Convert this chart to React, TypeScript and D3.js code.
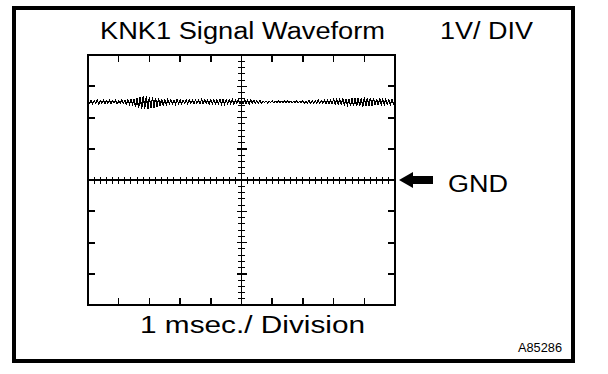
import React from 'react';
import * as d3 from 'd3';

// Oscilloscope: 10 horizontal divisions (1 ms each), 8 vertical divisions (1 V each)
const timeDivisions = d3.range(0, 11);   // ms
const voltDivisions = d3.range(-4, 5);   // V
const sampleStepMs = 0.05;

// KNK1 signal samples (V), every 0.05 ms
const knkSignal = [
  2.54, 2.46, 2.55, 2.45, 2.53, 2.47, 2.56, 2.44, 2.54, 2.46, 2.55, 2.45, 2.53, 2.46, 2.56, 2.45,
  2.54, 2.47, 2.55, 2.44, 2.53, 2.46, 2.56, 2.45, 2.55,
  2.43, 2.57, 2.42, 2.58, 2.43, 2.59,
  2.34, 2.62, 2.30, 2.66, 2.28, 2.68, 2.29, 2.67, 2.27, 2.66, 2.30, 2.65, 2.32, 2.63, 2.35, 2.62,
  2.36, 2.60, 2.38, 2.59, 2.40, 2.58,
  2.44, 2.56, 2.45, 2.55, 2.43, 2.57, 2.45, 2.56, 2.44, 2.55, 2.46, 2.56, 2.44, 2.57, 2.45, 2.55,
  2.44, 2.56, 2.46, 2.55, 2.45, 2.57, 2.44, 2.56, 2.45, 2.55, 2.44, 2.57,
  2.44, 2.57, 2.43, 2.56, 2.45, 2.58, 2.44, 2.57, 2.43, 2.56, 2.45, 2.57, 2.44, 2.58, 2.43, 2.56,
  2.45, 2.57, 2.44, 2.56,
  2.44, 2.57, 2.45, 2.56, 2.44, 2.57, 2.46, 2.55, 2.45, 2.54, 2.47, 2.54, 2.46, 2.53, 2.48, 2.53,
  2.47, 2.52, 2.48, 2.53,
  2.47, 2.52, 2.48, 2.53, 2.47, 2.52, 2.48, 2.52, 2.47, 2.53, 2.48, 2.52, 2.47, 2.52, 2.48, 2.53,
  2.47, 2.52, 2.48, 2.53, 2.46, 2.53, 2.47, 2.54, 2.46, 2.53, 2.47, 2.54, 2.46, 2.55, 2.45, 2.54,
  2.46, 2.55, 2.45, 2.56, 2.44, 2.55, 2.45, 2.57,
  2.43, 2.57, 2.42, 2.58, 2.43, 2.59, 2.42, 2.58, 2.41, 2.60,
  2.38, 2.61, 2.37, 2.62, 2.36, 2.63, 2.37, 2.62, 2.35, 2.64, 2.36, 2.62, 2.38, 2.63, 2.37, 2.61,
  2.39, 2.60, 2.40, 2.61, 2.41, 2.59,
  2.42, 2.58, 2.43, 2.57, 2.42, 2.58, 2.44, 2.57,
];

const titleText = 'KNK1 Signal Waveform';
const scaleText = '1V/ DIV';
const timeText = '1 msec./ Division';
const gndText = 'GND';
const figureId = 'A85286';

const W = 608;
const H = 374;
const font = '"Liberation Sans", Arial, Helvetica, sans-serif';

export default function App() {
  const x = d3.scaleLinear().domain([0, 10]).range([88, 395]);
  const y = d3.scaleLinear().domain([-4, 4]).range([305, 55]);

  const minorT = d3.range(0, 10.001, 0.2);
  const minorV = d3.range(-4, 4.001, 0.2);

  const line = d3
    .line<number>()
    .x((_, i) => x(i * sampleStepMs))
    .y((d) => y(d));

  const gy = y(0);
  const ax = x(10) + 4;

  return (
    <svg width={W} height={H} style={{ position: 'absolute', left: 0, top: 0, background: '#fff' }}>
      <g shapeRendering="crispEdges">
        {/* outer frame */}
        <rect x={14} y={8} width={559} height={353} fill="none" stroke="#000" strokeWidth={4} />

        {/* screen frame */}
        <rect x={x(0)} y={y(4)} width={x(10) - x(0)} height={y(-4) - y(4)} fill="none" stroke="#000" strokeWidth={2} />

        {/* major ticks on frame */}
        {timeDivisions.slice(1, -1).map((t) => (
          <g key={'t' + t}>
            <line x1={x(t)} x2={x(t)} y1={y(4)} y2={y(4) + 7} stroke="#000" strokeWidth={1.5} />
            <line x1={x(t)} x2={x(t)} y1={y(-4)} y2={y(-4) - 7} stroke="#000" strokeWidth={1.5} />
          </g>
        ))}
        {voltDivisions.slice(1, -1).map((v) => (
          <g key={'v' + v}>
            <line x1={x(0)} x2={x(0) + 7} y1={y(v)} y2={y(v)} stroke="#000" strokeWidth={2} />
            <line x1={x(10)} x2={x(10) - 7} y1={y(v)} y2={y(v)} stroke="#000" strokeWidth={2} />
          </g>
        ))}

        {/* center axes */}
        <line x1={x(0)} x2={x(10)} y1={gy} y2={gy} stroke="#000" strokeWidth={1.2} />
        <line x1={x(5)} x2={x(5)} y1={y(4)} y2={y(-4)} stroke="#000" strokeWidth={1.2} />
        {minorT.map((t) => (
          <line key={'mt' + t} x1={x(t)} x2={x(t)} y1={gy - 3.5} y2={gy + 3.5} stroke="#000" strokeWidth={1} />
        ))}
        {minorV.map((v) => (
          <line key={'mv' + v} x1={x(5) - 3.5} x2={x(5) + 3.5} y1={y(v)} y2={y(v)} stroke="#000" strokeWidth={1} />
        ))}
        {voltDivisions.map((v) => (
          <line key={'Mv' + v} x1={x(5) - 5} x2={x(5) + 5} y1={y(v)} y2={y(v)} stroke="#000" strokeWidth={1.5} />
        ))}

        {/* waveform */}
        <path d={line(knkSignal) || ''} fill="none" stroke="#000" strokeWidth={1.2} />
      </g>

      {/* GND arrow */}
      <path
        d={`M${ax},${gy} L${ax + 14},${gy - 8} L${ax + 14},${gy - 4} L${ax + 34},${gy - 4} L${ax + 34},${gy + 4} L${ax + 14},${gy + 4} L${ax + 14},${gy + 8} Z`}
        fill="#000"
      />

      {/* texts */}
      <g fontFamily={font} fill="#000">
        <text x={100} y={39} fontSize={23} textLength={285} lengthAdjust="spacingAndGlyphs">{titleText}</text>
        <text x={440} y={39} fontSize={23} textLength={93} lengthAdjust="spacingAndGlyphs">{scaleText}</text>
        <text x={140} y={333} fontSize={23} textLength={225} lengthAdjust="spacingAndGlyphs">{timeText}</text>
        <text x={448} y={192} fontSize={23} textLength={60} lengthAdjust="spacingAndGlyphs">{gndText}</text>
        <text x={518} y={352} fontSize={13} textLength={44} lengthAdjust="spacingAndGlyphs">{figureId}</text>
      </g>
    </svg>
  );
}
